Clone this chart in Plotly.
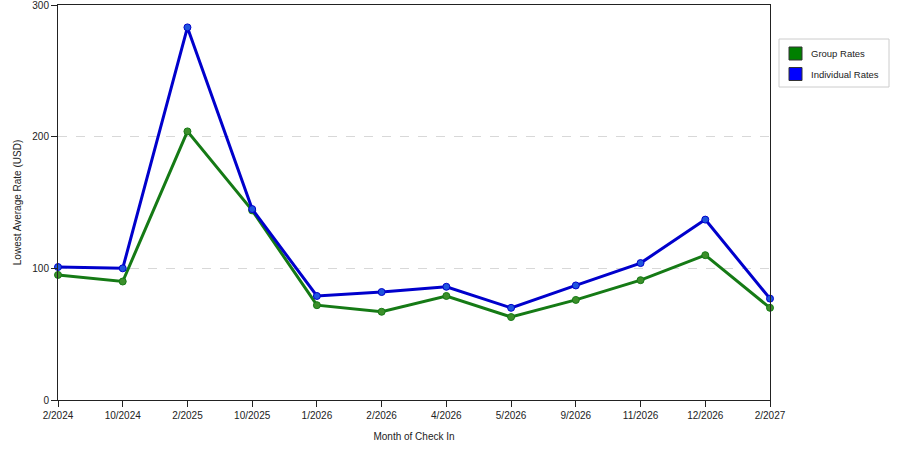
import plotly.graph_objects as go

months = ["2/2024", "10/2024", "2/2025", "10/2025", "1/2026", "2/2026",
          "4/2026", "5/2026", "9/2026", "11/2026", "12/2026", "2/2027"]
group_rates = [95, 90, 204, 144, 72, 67, 79, 63, 76, 91, 110, 70]
individual_rates = [101, 100, 283, 145, 79, 82, 86, 70, 87, 104, 137, 77]
series_names = ["Group Rates", "Individual Rates"]

FONT = "Liberation Sans"
GREEN_LINE, GREEN_MARK = "#157a15", "#3c8f2a"
BLUE_LINE, BLUE_MARK = "#0000cc", "#1f55dd"
SWATCH = ["#008000", "#0000ff"]

W, H = 900, 450
L, R, T, B = 58, 130, 5, 50
PW, PH = W - L - R, H - T - B


def px(p):
    return (p - L) / PW


def py(p):
    return (H - B - p) / PH


fig = go.Figure()
fig.add_trace(go.Scatter(
    x=months, y=group_rates, name=series_names[0], mode="lines+markers",
    line=dict(color=GREEN_LINE, width=3), showlegend=False, cliponaxis=False,
    marker=dict(color=GREEN_MARK, size=7, line=dict(color=GREEN_LINE, width=1)),
))
fig.add_trace(go.Scatter(
    x=months, y=individual_rates, name=series_names[1], mode="lines+markers",
    line=dict(color=BLUE_LINE, width=3), showlegend=False, cliponaxis=False,
    marker=dict(color=BLUE_MARK, size=7, line=dict(color=BLUE_LINE, width=1)),
))

# custom legend (box, square swatches, labels)
shapes = [dict(type="rect", xref="paper", yref="paper",
               x0=px(779), x1=px(889), y0=py(87), y1=py(39),
               line=dict(color="#cccccc", width=1), fillcolor="white", layer="above")]
annotations = []
for i, (name, col) in enumerate(zip(series_names, SWATCH)):
    top = 47 + i * 20.5
    shapes.append(dict(type="rect", xref="paper", yref="paper",
                       x0=px(789), x1=px(802), y0=py(top + 13), y1=py(top),
                       line=dict(color="#333333", width=1), fillcolor=col, layer="above"))
    annotations.append(dict(xref="paper", yref="paper", x=px(809), y=py(top + 6.5),
                            xanchor="left", yanchor="middle", showarrow=False,
                            text=name, font=dict(family=FONT, size=9.5, color="#222222")))

fig.update_layout(
    width=W, height=H,
    margin=dict(l=L, r=R, t=T, b=B, autoexpand=False),
    plot_bgcolor="white", paper_bgcolor="white",
    font=dict(family=FONT, size=10, color="#222222"),
    showlegend=False,
    shapes=shapes, annotations=annotations,
    xaxis=dict(
        type="category", range=[0, 11], automargin=False,
        showgrid=False, showline=True, linecolor="#222222", linewidth=1,
        mirror=True, ticks="outside", ticklen=6, tickcolor="#222222",
        title=dict(text="Month of Check In", font=dict(family=FONT, size=10), standoff=12),
        tickfont=dict(family=FONT, size=10), ticklabeloverflow="allow",
    ),
    yaxis=dict(
        range=[0, 300], tickvals=[0, 100, 200, 300], automargin=False,
        showgrid=True, gridcolor="#d8d8d8", griddash="dash", gridwidth=1,
        showline=True, linecolor="#222222", linewidth=1, mirror=True,
        ticks="outside", ticklen=6, tickcolor="#222222", zeroline=False,
        title=dict(text="Lowest Average Rate (USD)", font=dict(family=FONT, size=10), standoff=8),
        tickfont=dict(family=FONT, size=10), ticklabeloverflow="allow",
    ),
)

fig.write_html("out.html", config={"displayModeBar": False, "staticPlot": True},
               post_script="document.body.style.margin='0';document.body.style.padding='0';")
